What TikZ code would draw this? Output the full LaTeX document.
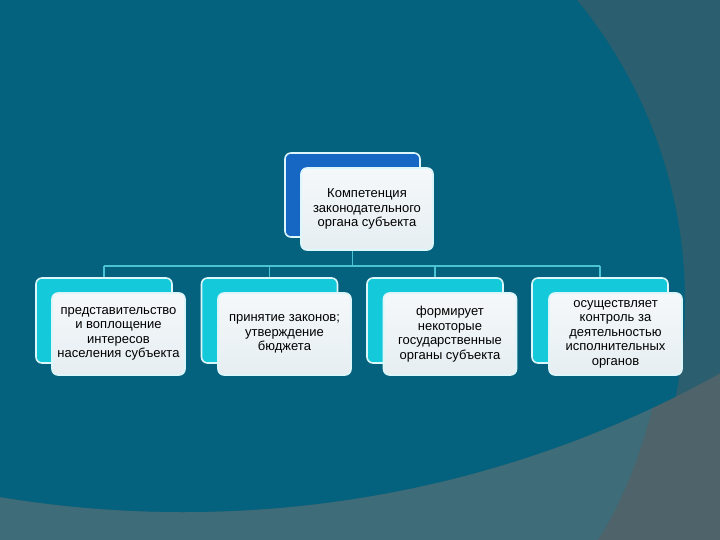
\documentclass[tikz,border=0pt]{standalone}
\usepackage{fontspec}
\setmainfont{Liberation Sans}
\definecolor{bgdark}{HTML}{05627E}
\definecolor{bgtr}{HTML}{2B5E6E}
\definecolor{bgbot}{HTML}{3E6C78}
\definecolor{bggray}{HTML}{4E646A}
\definecolor{topblue}{HTML}{1666C3}
\definecolor{cyanbox}{HTML}{14C9D9}
\definecolor{connc}{HTML}{4AC3D2}
\definecolor{edgec}{HTML}{DDF6FA}
\definecolor{frontc}{HTML}{E6EEF2}
\begin{document}
\begin{tikzpicture}[x=1pt,y=-1pt,
  backbox/.style={draw=edgec, line width=1.6pt, rounded corners=6pt, inner sep=0pt},
  topback/.style={backbox, fill=topblue, minimum width=135pt, minimum height=84pt},
  childback/.style={backbox, fill=cyanbox, minimum width=136pt, minimum height=85pt},
  frontbox/.style={draw=edgec, line width=1.6pt, rounded corners=6pt, inner sep=0pt,
    top color=white!60!frontc, bottom color=frontc,
    minimum width=133pt, minimum height=82pt, align=center, text=black,
    font=\fontsize{13}{14.5}\selectfont},
  conn/.style={draw=connc, line width=1.6pt}
]
\useasboundingbox (0,0) rectangle (720,540);
% background
\fill[bgbot] (0,0) rectangle (720,540);
\fill[bggray] (668,330) .. controls (655,420) and (630,490) .. (598,540) -- (720,540) -- (720,330) -- cycle;
\begin{scope}
  \clip (183,-595) circle[radius=1107pt];
  \fill[bgtr] (0,0) rectangle (720,540);
  \fill[bgdark] (209,302) circle[radius=476pt];
\end{scope}

% top node
\node[topback] (tb) at (352.5,195) {};
\node[frontbox, minimum width=132pt] (tf) at (367,209) {Компетенция\\законодательного\\органа субъекта};

% children
\node[childback] (b1) at (104,320.5) {};
\node[childback] (b2) at (269.5,320.5) {};
\node[childback] (b3) at (435,320.5) {};
\node[childback] (b4) at (600,320.5) {};

\node[frontbox] (f1) at (118.5,334) {представительство\\и воплощение\\интересов\\населения субъекта};
\node[frontbox] (f2) at (284.5,334) {принятие законов;\\утверждение\\бюджета};
\node[frontbox] (f3) at (450,334) {формирует\\некоторые\\государственные\\органы субъекта};
\node[frontbox] (f4) at (615.5,334) {осуществляет\\контроль за\\деятельностью\\исполнительных\\органов};

% connectors
\coordinate (bus) at (352.5,266);
\draw[conn] (tb.south |- tf.south) -- (bus);
\draw[conn] (b1.north |- bus) -- (b4.north |- bus);
\draw[conn] (b1.north |- bus) -- (b1.north);
\draw[conn] (b2.north |- bus) -- (b2.north);
\draw[conn] (b3.north |- bus) -- (b3.north);
\draw[conn] (b4.north |- bus) -- (b4.north);
\end{tikzpicture}
\end{document}
